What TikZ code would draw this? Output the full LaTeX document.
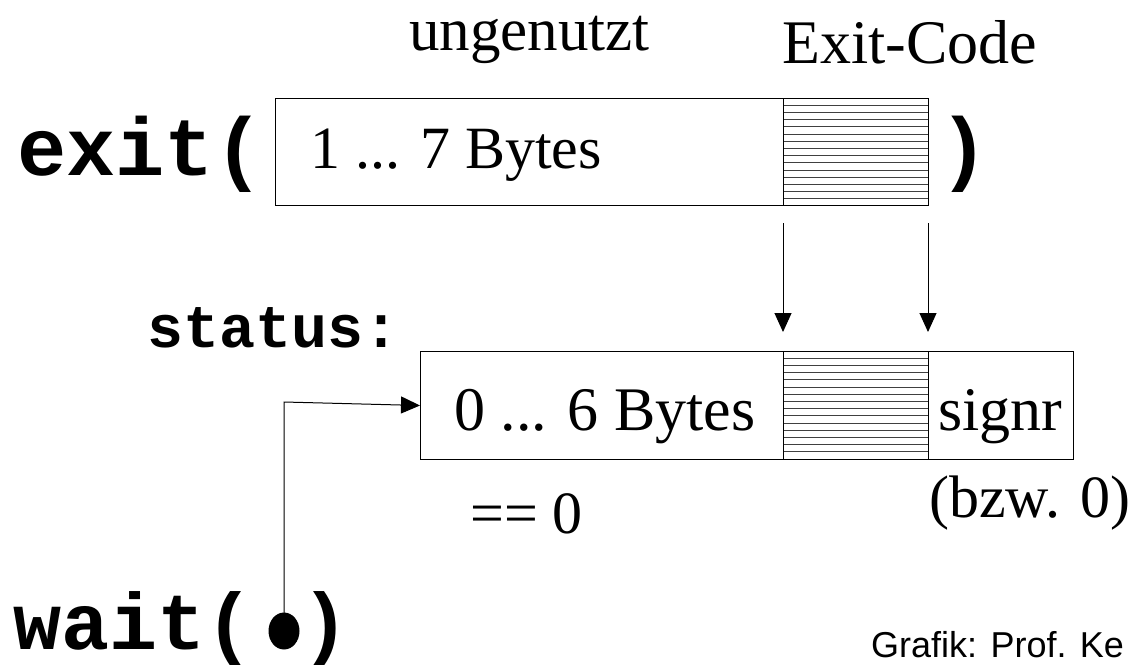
\documentclass[tikz,border=0pt]{standalone}
\usepackage{fontspec}
\setmainfont{Liberation Serif}
\setmonofont{Liberation Mono}
\setsansfont{Liberation Sans}
\usetikzlibrary{arrows.meta,shapes.geometric}
\tikzset{
  code/.style={font=\fontsize{82}{84}\selectfont\ttfamily\bfseries, inner sep=0pt, anchor=base west},
  lbl/.style={font=\fontsize{61}{63}\selectfont, inner sep=0pt, anchor=base west},
  frame/.style={draw=black, line width=1pt, inner sep=0pt, anchor=north west},
  hatch/.style={draw=black!75, line width=0.9pt},
  arr/.style={draw=black, line width=1pt, -{Triangle[length=19pt,width=17pt]}},
}
\begin{document}
\begin{tikzpicture}[x=1pt,y=-1pt]
\useasboundingbox (0,0) rectangle (1131,664);
% top row
\node[lbl] (ung) at (409,50) {ungenutzt};
\node[lbl, font=\fontsize{62}{64}\selectfont] (ec) at (782,63) {Exit-Code};
\node[code] (exit) at (17,175) {exit(};
\node[code] (rp) at (939,175) {)};
\node[frame, minimum width=508pt, minimum height=107pt] (top) at (275,98) {};
\node[lbl, font=\fontsize{60}{62}\selectfont] (t1) at (310,168) {1 ... 7 Bytes};
\foreach \y in {105.2,112.4,...,204} {\draw[hatch] (783,\y) -- (928,\y);}
\node[frame, minimum width=145pt, minimum height=107pt] (topec) at (783,98) {};
% arrows
\coordinate (a1s) at (783,223);
\coordinate (a2s) at (928,223);
\coordinate (a1e) at (783,332);
\coordinate (a2e) at (928,332);
\draw[arr] (a1s) -- (a1e);
\draw[arr] (a2s) -- (a2e);
% status
\node[code, font=\fontsize{60}{62}\selectfont\ttfamily\bfseries] (st) at (147,347) {status:};
\node[frame, minimum width=363pt, minimum height=108pt] (b1) at (420,351) {};
\foreach \y in {358.2,365.4,...,458} {\draw[hatch] (783,\y) -- (928,\y);}
\node[frame, minimum width=145pt, minimum height=108pt] (b2) at (783,351) {};
\node[frame, minimum width=145pt, minimum height=108pt] (b3) at (928,351) {};
\node[lbl, font=\fontsize{62}{64}\selectfont] (t2) at (454,430) {0 ... 6 Bytes};
\node[lbl, font=\fontsize{62}{64}\selectfont] (t3) at (938,430) {signr};
\node[lbl, font=\fontsize{60}{62}\selectfont] (eq) at (470,533) {== 0};
\node[lbl, font=\fontsize{60}{62}\selectfont] (bzw) at (929,517) {(bzw. 0)};
% wait
\node[code, font=\fontsize{80}{82}\selectfont\ttfamily\bfseries] (wait) at (13,649) {wait( )};
\node[fill=black, ellipse, minimum width=31pt, minimum height=37pt, inner sep=0pt] (dot) at (284,631) {};
\coordinate (corner) at (284,402);
\draw[arr] (dot.center) -- (corner) -- (b1.west);
\node[font=\fontsize{36}{38}\selectfont\sffamily, anchor=base west, inner sep=0pt] (graf) at (871,657) {Grafik: Prof. Ke};
\end{tikzpicture}
\end{document}
